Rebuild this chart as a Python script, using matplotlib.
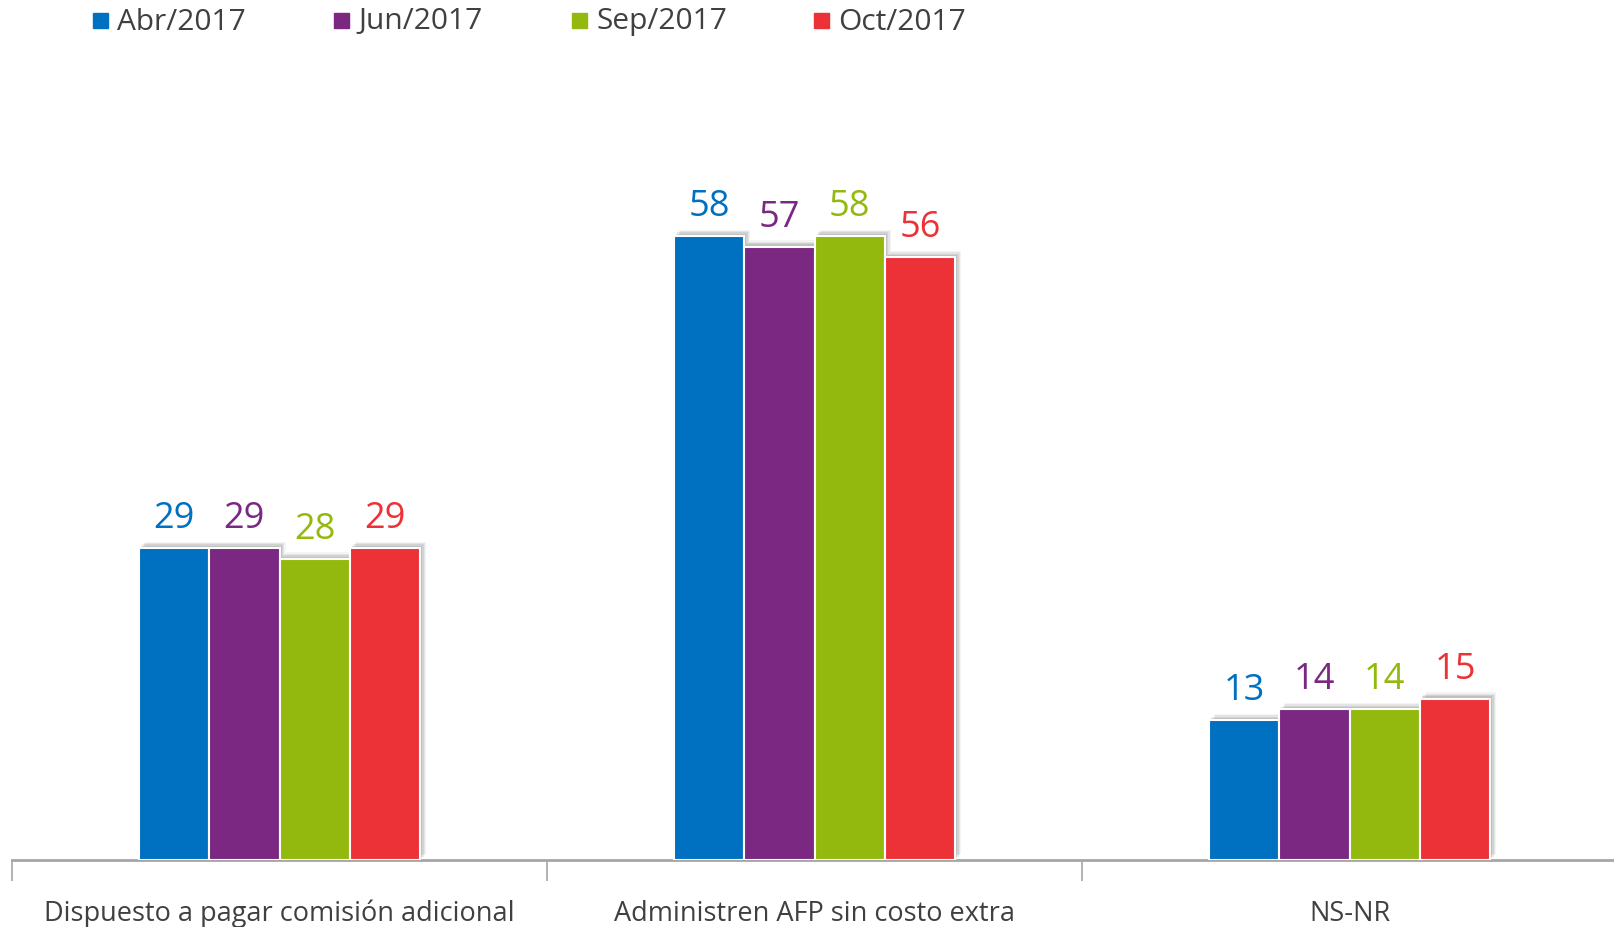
import matplotlib
matplotlib.use("Agg")
import matplotlib.pyplot as plt
import matplotlib.patheffects as pe
import numpy as np

categories = ["Dispuesto a pagar comisión adicional", "Administren AFP sin costo extra", "NS-NR"]
series_names = ["Abr/2017", "Jun/2017", "Sep/2017", "Oct/2017"]
abr = [29, 58, 13]
jun = [29, 57, 14]
sep = [28, 58, 14]
octb = [29, 56, 15]
values = [abr, jun, sep, octb]
colors = ["#0070C0", "#7A2882", "#93B90E", "#EC3237"]

plt.rcParams['font.family'] = ['Open Sans', 'DejaVu Sans']

W, H, DPI = 1614, 928, 100
fig = plt.figure(figsize=(W / DPI, H / DPI), dpi=DPI)
base_y = 861
ax = fig.add_axes([12 / W, (H - base_y) / H, 1605 / W, base_y / H])
ax.set_xlim(-0.5, 2.5)
ax.set_ylim(0, 80)

bw = 0.1315
x = np.arange(len(categories))
shadow = [pe.SimplePatchShadow(offset=(o, o), shadow_rgbFace='#777777', alpha=a)
          for o, a in [(4.5, 0.08), (3.5, 0.12), (2.5, 0.16), (1.5, 0.2)]] + [pe.Normal()]
for i, (vals, col) in enumerate(zip(values, colors)):
    xs = x + (i - 1.5) * bw
    bars = ax.bar(xs, vals, width=bw, color=col, edgecolor='white', linewidth=1.5,
                  label=series_names[i], zorder=3)
    for b in bars:
        b.set_path_effects(shadow)
    for xi, v in zip(xs, vals):
        ax.annotate(str(v), (xi, v), xytext=(0, 15), textcoords='offset points',
                    ha='center', va='baseline', fontsize=26, color=col, zorder=4)

for s in ['top', 'right', 'left']:
    ax.spines[s].set_visible(False)
ax.spines['bottom'].set_color('#A6A6A6')
ax.spines['bottom'].set_linewidth(2)
ax.set_yticks([])
ax.set_xticks([-0.5, 0.5, 1.5, 2.5], minor=True)
ax.tick_params(axis='x', which='minor', length=15, width=1.2, color='#A6A6A6')
ax.set_xticks(x)
ax.set_xticklabels(categories, fontsize=19.5, color='#404040')
ax.tick_params(axis='x', which='major', length=0, pad=28)

# legend
leg_x = [99, 340, 578, 820]
for lx, name, col in zip(leg_x, series_names, colors):
    fig.patches.append(plt.Rectangle(((lx - 6) / W, 1 - 29 / H), 15 / W, 15 / H,
                                     transform=fig.transFigure, color=col, figure=fig))
    fig.text((lx + 18) / W, 1 - 22 / H, name, fontsize=21.5, color='#404040',
             ha='left', va='center')

fig.savefig("out.png", dpi=DPI)
